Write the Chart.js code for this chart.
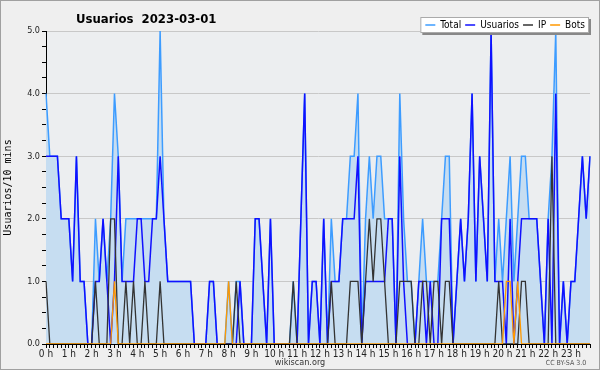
<!DOCTYPE html>
<html>
<head>
<meta charset="utf-8">
<script src="https://cdn.jsdelivr.net/npm/chart.js@4.4.0/dist/chart.umd.min.js"></script>
<style>
  html, body { margin: 0; padding: 0; background: #efefef; }
  #wrap { width: 600px; height: 370px; }
</style>
</head>
<body>
<div id="wrap"><canvas id="ChartUsuarios" width="600" height="370"></canvas></div>
<script>
// one value per 10 minutes, 6 per hour, one row per hour
const usuarios = [
    3, 3, 3, 3, 2, 2,
    2, 1, 3, 1, 1, 0,
    0, 1, 1, 2, 1, 0,
    1, 3, 1, 1, 1, 1,
    2, 2, 1, 1, 2, 2,
    3, 2, 1, 1, 1, 1,
    1, 1, 1, 0, 0, 0,
    0, 1, 1, 0, 0, 0,
    0, 0, 0, 1, 0, 0,
    0, 2, 2, 1, 0, 2,
    0, 0, 0, 0, 0, 0,
    0, 2, 4, 0, 1, 1,
    0, 2, 0, 1, 1, 1,
    2, 2, 2, 2, 3, 0,
    1, 1, 1, 1, 1, 1,
    2, 2, 0, 3, 1, 0,
    0, 0, 1, 1, 0, 1,
    0, 0, 2, 2, 2, 0,
    1, 2, 1, 2, 4, 1,
    3, 2, 1, 5, 1, 1,
    1, 0, 2, 0, 1, 2,
    2, 2, 2, 2, 1, 0,
    2, 0, 4, 0, 1, 0,
    1, 1, 2, 3, 2, 3,
];
const ip = [
    1, 0, 0, 0, 0, 0,
    0, 0, 0, 0, 0, 0,
    0, 1, 0, 0, 0, 2,
    2, 0, 0, 1, 0, 1,
    0, 0, 1, 0, 0, 0,
    1, 0, 0, 0, 0, 0,
    0, 0, 0, 0, 0, 0,
    0, 0, 0, 0, 0, 0,
    0, 0, 1, 0, 0, 0,
    0, 0, 0, 0, 0, 0,
    0, 0, 0, 0, 0, 1,
    0, 0, 0, 0, 0, 0,
    0, 0, 0, 1, 0, 0,
    0, 0, 1, 1, 1, 0,
    1, 2, 1, 2, 2, 1,
    0, 0, 0, 1, 1, 1,
    1, 0, 0, 1, 1, 0,
    1, 1, 0, 1, 1, 0,
    0, 0, 0, 0, 0, 0,
    0, 0, 0, 0, 0, 1,
    0, 0, 0, 0, 0, 1,
    1, 0, 0, 0, 0, 0,
    0, 3, 0, 0, 0, 0,
    0, 0, 0, 0, 0, 0,
];
const bots = [
    0, 0, 0, 0, 0, 0,
    0, 0, 0, 0, 0, 0,
    0, 0, 0, 0, 0, 0,
    1, 0, 0, 0, 0, 0,
    0, 0, 0, 0, 0, 0,
    0, 0, 0, 0, 0, 0,
    0, 0, 0, 0, 0, 0,
    0, 0, 0, 0, 0, 0,
    1, 0, 0, 0, 0, 0,
    0, 0, 0, 0, 0, 0,
    0, 0, 0, 0, 0, 0,
    0, 0, 0, 0, 0, 0,
    0, 0, 0, 0, 0, 0,
    0, 0, 0, 0, 0, 0,
    0, 0, 0, 0, 0, 0,
    0, 0, 0, 0, 0, 0,
    0, 0, 0, 0, 0, 0,
    0, 0, 0, 0, 0, 0,
    0, 0, 0, 0, 0, 0,
    0, 0, 0, 0, 0, 0,
    0, 1, 1, 0, 1, 0,
    0, 0, 0, 0, 0, 0,
    0, 0, 0, 0, 0, 0,
    0, 0, 0, 0, 0, 0,
];
const total = [
    4, 3, 3, 3, 2, 2,
    2, 1, 3, 1, 1, 0,
    0, 2, 1, 2, 1, 2,
    4, 3, 1, 2, 2, 2,
    2, 2, 2, 2, 2, 2,
    5, 2, 1, 1, 1, 1,
    1, 1, 1, 0, 0, 0,
    0, 1, 1, 0, 0, 0,
    1, 0, 1, 1, 0, 0,
    0, 2, 2, 1, 0, 2,
    0, 0, 0, 0, 0, 1,
    0, 2, 4, 0, 1, 1,
    0, 2, 0, 2, 1, 1,
    2, 2, 3, 3, 4, 0,
    2, 3, 2, 3, 3, 2,
    2, 2, 0, 4, 2, 1,
    1, 0, 1, 2, 1, 1,
    1, 1, 2, 3, 3, 0,
    1, 2, 1, 2, 4, 1,
    3, 2, 1, 5, 1, 2,
    1, 2, 3, 1, 2, 3,
    3, 2, 2, 2, 1, 0,
    2, 3, 5, 0, 1, 0,
    1, 1, 2, 3, 2, 3,
];
const seriesNames = ["Total", "Usuarios", "IP", "Bots"];
const titleText = "Usuarios  2023-03-01";
const yTitle = "Usuarios/10 mins";

// one slot per 10 minutes
const slots = [];
for (let h = 0; h < 24; h++) {
    for (let m = 0; m < 60; m += 10) {
        slots.push(h + ":" + String(m).padStart(2, "0"));
    }
}

const FONT = "'DejaVu Sans Condensed', 'DejaVu Sans', sans-serif";

// background, frame, title, legend box, footer
const decor = {
    id: "decor",
    beforeDraw(chart) {
        const c = chart.ctx;
        const a = chart.chartArea;
        c.save();
        c.fillStyle = "#efefef";
        c.fillRect(0, 0, chart.width, chart.height);
        c.fillStyle = "#eceef0";
        c.fillRect(a.left, a.top, a.right - a.left, a.bottom - a.top);
        c.restore();
    },
    afterDraw(chart) {
        const c = chart.ctx;
        c.save();
        // frame
        c.strokeStyle = "#a0a0a0";
        c.lineWidth = 1;
        c.strokeRect(0.5, 0.5, chart.width - 1, chart.height - 1);

        // title
        c.fillStyle = "#000";
        c.font = "bold 13px " + FONT;
        c.textBaseline = "alphabetic";
        c.textAlign = "left";
        c.fillText(titleText, 76, 23);

        // legend
        c.font = "10px " + FONT;
        let w = 5;
        chart.data.datasets.forEach((ds) => {
            w += 15 + c.measureText(ds.label).width + 4;
        });
        const lh = 16, ly = 17, lx = 589 - w;
        c.fillStyle = "#888";
        c.fillRect(lx + 2, ly + 2, w, lh);
        c.fillStyle = "#fff";
        c.fillRect(lx, ly, w, lh);
        c.strokeStyle = "#aaa";
        c.strokeRect(lx + 0.5, ly + 0.5, w - 1, lh - 1);
        c.textBaseline = "middle";
        let x = lx + 5;
        chart.data.datasets.forEach((ds) => {
            c.strokeStyle = ds.borderColor;
            c.lineWidth = 1.5;
            c.beginPath();
            c.moveTo(x, ly + lh / 2);
            c.lineTo(x + 10, ly + lh / 2);
            c.stroke();
            x += 15;
            c.fillStyle = "#000";
            c.fillText(ds.label, x, ly + lh / 2 + 0.5);
            x += c.measureText(ds.label).width + 4;
        });

        // footer
        c.fillStyle = "#333";
        c.font = "9px " + FONT;
        c.textAlign = "center";
        c.textBaseline = "alphabetic";
        c.fillText("wikiscan.org", 300, 365);
        c.font = "7px " + FONT;
        c.fillStyle = "#555";
        c.fillText("CC BY-SA 3.0", 566, 365);
        c.restore();
    },
};

new Chart(document.getElementById("ChartUsuarios"), {
    type: "line",
    data: {
        labels: slots,
        datasets: [
            {
                label: seriesNames[0],
                data: total,
                borderColor: "#3d9cff",
                backgroundColor: "#c6ddf1",
                fill: "origin",
                borderWidth: 1.5,
                order: 4,
            },
            {
                label: seriesNames[1],
                data: usuarios,
                borderColor: "#1010ff",
                borderWidth: 1.5,
                fill: false,
                order: 3,
            },
            {
                label: seriesNames[2],
                data: ip,
                borderColor: "#333333",
                borderWidth: 1.3,
                fill: false,
                order: 2,
            },
            {
                label: seriesNames[3],
                data: bots,
                borderColor: "#ff9900",
                borderWidth: 1.3,
                fill: false,
                order: 1,
            },
        ],
    },
    options: {
        responsive: false,
        animation: false,
        devicePixelRatio: 1,
        layout: { padding: { top: 31, right: 10, left: 0, bottom: 0 } },
        elements: { point: { radius: 0 }, line: { tension: 0 } },
        plugins: {
            legend: { display: false },
            tooltip: { enabled: false },
            title: { display: false },
        },
        scales: {
            x: {
                offset: false,
                afterFit: (s) => { s.height = 26; },
                border: { color: "#000", width: 1 },
                grid: { drawOnChartArea: false, tickColor: "#000", tickLength: 4 },
                ticks: {
                    autoSkip: false,
                    maxRotation: 0,
                    padding: 0,
                    color: "#222",
                    font: { family: FONT, size: 10 },
                    callback: function (value, index) {
                        return index % 6 === 0 ? index / 6 + " h" : "";
                    },
                },
            },
            y: {
                min: 0,
                max: 5,
                afterFit: (s) => { s.width = 46; },
                border: { color: "#000", width: 1 },
                grid: {
                    color: (ctx) => (ctx.tick && ctx.tick.value % 1 === 0 ? "#c8c8c8" : "rgba(0,0,0,0)"),
                    tickColor: "#000",
                    tickLength: 4,
                },
                title: {
                    display: true,
                    text: yTitle,
                    color: "#000",
                    font: { family: "'DejaVu Sans Mono', monospace", size: 10 },
                    padding: { top: 2, bottom: 0 },
                },
                ticks: {
                    stepSize: 0.25,
                    autoSkip: false,
                    padding: 2,
                    color: "#222",
                    font: { family: FONT, size: 9 },
                    callback: function (value) {
                        return value % 1 === 0 ? value.toFixed(1) : "";
                    },
                },
            },
        },
    },
    plugins: [decor],
});
</script>
</body>
</html>
